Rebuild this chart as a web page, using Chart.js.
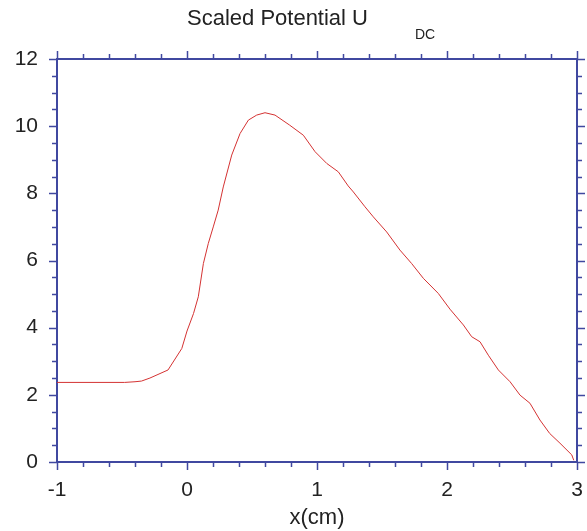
<!DOCTYPE html>
<html>
<head>
<meta charset="utf-8">
<script src="https://cdn.jsdelivr.net/npm/chart.js@4"></script>
<style>
  html, body { margin: 0; padding: 0; background: #fff; }
  #wrap { width: 587px; height: 531px; }
</style>
</head>
<body>
<div id="wrap"><canvas id="chartPotential"></canvas></div>
<script>
// Scaled potential U_DC along x (cm)
const xValues = [-1, -0.8, -0.6, -0.48, -0.4, -0.35, -0.285, -0.146, -0.04, 0.0, 0.05, 0.087,
  0.126, 0.164, 0.202, 0.24, 0.279, 0.344, 0.408, 0.472, 0.536, 0.6, 0.677, 0.79, 0.895,
  0.985, 1.075, 1.164, 1.24, 1.28, 1.369, 1.433, 1.536, 1.638, 1.728, 1.818, 1.933, 2.023,
  2.126, 2.19, 2.254, 2.318, 2.395, 2.485, 2.562, 2.638, 2.715, 2.79, 2.869, 2.96, 2.975];
const uValues = [2.37, 2.37, 2.37, 2.37, 2.39, 2.41, 2.5, 2.74, 3.38, 3.9, 4.42, 4.92,
  5.91, 6.51, 7.0, 7.5, 8.19, 9.14, 9.78, 10.18, 10.33, 10.4, 10.33, 10.03, 9.73,
  9.24, 8.89, 8.64, 8.22, 8.04, 7.6, 7.3, 6.85, 6.31, 5.91, 5.47, 5.02, 4.55,
  4.08, 3.73, 3.58, 3.18, 2.74, 2.39, 1.99, 1.75, 1.25, 0.85, 0.56, 0.21, 0.05];

const xTicks = [-1, 0, 1, 2, 3];
const yTicks = [0, 2, 4, 6, 8, 10, 12];

const axisColor = "#4048a0";
const textColor = "#222";
const fontFamily = "'Liberation Sans', Arial, sans-serif";

const points = xValues.map((x, i) => ({ x: x, y: uValues[i] }));

function isMajor(v, list) {
  return list.some((t) => Math.abs(t - v) < 1e-6);
}

// minor/major ticks on all four sides + top/right frame + title
const frameTicks = {
  id: "frameTicks",
  afterDraw(chart) {
    const ctx = chart.ctx;
    const a = chart.chartArea;
    const xs = chart.scales.x;
    const ys = chart.scales.y;
    ctx.save();
    ctx.strokeStyle = axisColor;
    ctx.lineWidth = 2;
    ctx.beginPath();
    ctx.moveTo(a.left, a.top);
    ctx.lineTo(a.right, a.top);
    ctx.lineTo(a.right, a.bottom);
    ctx.stroke();

    ctx.lineWidth = 1.5;
    ctx.beginPath();
    xs.ticks.forEach((t) => {
      const px = Math.round(xs.getPixelForValue(t.value)) + 0.5;
      const len = isMajor(t.value, xTicks) ? 8 : 5;
      ctx.moveTo(px, a.bottom);
      ctx.lineTo(px, a.bottom + len);
      ctx.moveTo(px, a.top);
      ctx.lineTo(px, a.top - len);
    });
    ys.ticks.forEach((t) => {
      const py = Math.round(ys.getPixelForValue(t.value)) + 0.5;
      const len = isMajor(t.value, yTicks) ? 8 : 5;
      ctx.moveTo(a.left, py);
      ctx.lineTo(a.left - len, py);
      ctx.moveTo(a.right, py);
      ctx.lineTo(a.right + len, py);
    });
    ctx.stroke();

    ctx.fillStyle = textColor;
    ctx.textBaseline = "middle";
    ctx.textAlign = "left";
    ctx.font = "22px " + fontFamily;
    ctx.fillText("Scaled Potential U", 187, 19);
    ctx.font = "14px " + fontFamily;
    ctx.fillText("DC", 415, 35);
    ctx.restore();
  },
};

const configPotential = {
  type: "scatter",
  data: {
    datasets: [
      {
        label: "U_DC",
        data: points,
        showLine: true,
        borderColor: "rgb(212, 50, 50)",
        borderWidth: 1,
        pointRadius: 0,
        tension: 0,
      },
    ],
  },
  options: {
    responsive: true,
    maintainAspectRatio: false,
    animation: false,
    layout: { padding: { top: 59, right: 10, left: 0, bottom: 0 } },
    plugins: {
      legend: { display: false },
      tooltip: { enabled: false },
    },
    scales: {
      x: {
        type: "linear",
        min: -1,
        max: 3,
        afterFit(scale) {
          scale.height = 69;
          scale.paddingLeft = 0;
          scale.paddingRight = 0;
        },
        border: { display: true, color: axisColor, width: 2 },
        grid: { display: false, drawTicks: false },
        ticks: {
          stepSize: 0.2,
          autoSkip: false,
          maxRotation: 0,
          padding: 16,
          color: textColor,
          font: { size: 21, family: fontFamily },
          callback: (v) => (isMajor(v, xTicks) ? Math.round(v) : ""),
        },
        title: {
          display: true,
          text: "x(cm)",
          color: textColor,
          font: { size: 22, family: fontFamily },
          padding: { top: 0, bottom: 0 },
        },
      },
      y: {
        type: "linear",
        min: 0,
        max: 12,
        afterFit(scale) {
          scale.width = 57;
          scale.paddingTop = 0;
          scale.paddingBottom = 0;
        },
        border: { display: true, color: axisColor, width: 2 },
        grid: { display: false, drawTicks: false },
        ticks: {
          stepSize: 0.5,
          autoSkip: false,
          padding: 19,
          color: textColor,
          font: { size: 21, family: fontFamily },
          callback: (v) => (isMajor(v, yTicks) ? Math.round(v) : ""),
        },
      },
    },
  },
  plugins: [frameTicks],
};

var chartPotential = new Chart(
  document.getElementById("chartPotential"),
  configPotential
);
</script>
</body>
</html>
